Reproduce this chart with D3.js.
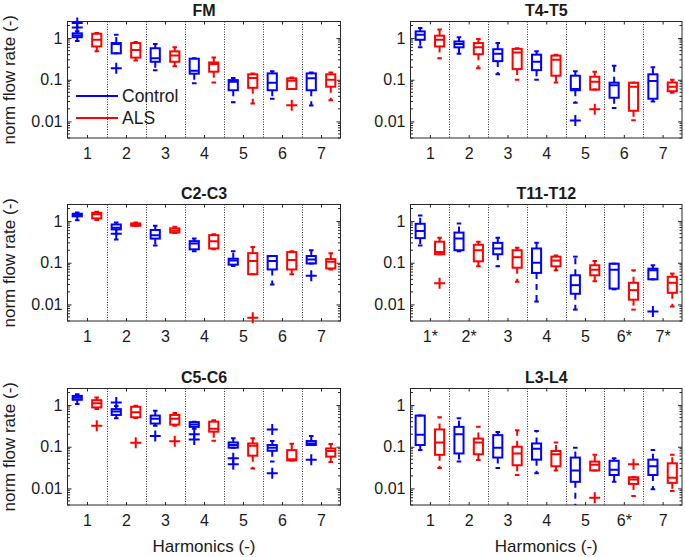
<!DOCTYPE html>
<html><head><meta charset="utf-8">
<script src="https://cdn.jsdelivr.net/npm/d3@7"></script>
<style>
body{margin:0;background:#fff}
text{font-family:"Liberation Sans",Arial,Helvetica,sans-serif;fill:#1a1a1a}
</style>
</head><body>
<svg id="c" width="685" height="557"></svg>
<script>
// ---------- data ----------
const harmonics = [1, 2, 3, 4, 5, 6, 7];
const panelTitles = ["FM", "T4-T5", "C2-C3", "T11-T12", "C5-C6", "L3-L4"];
const groupNames = ["Control", "ALS"];
const yTickValues = [0.01, 0.1, 1];
const yTickLabels = ["0.01", "0.1", "1"];
const xLabelsPlain = ["1", "2", "3", "4", "5", "6", "7"];
const xLabelsT1112 = ["1*", "2*", "3", "4", "5", "6*", "7*"];
const xLabelsL34 = ["1", "2", "3", "4", "5", "6*", "7"];
const yAxisTitle = "norm flow rate (-)";
const xAxisTitle = "Harmonics (-)";

// box stats per harmonic: [lower whisker, Q1, median, Q3, upper whisker]
const fmControl = [[0.85,1.05,1.15,1.3,1.45],[0.43,0.43,0.72,0.76,1.2],[0.17,0.27,0.33,0.57,0.72],[0.082,0.14,0.165,0.32,0.33],[0.029,0.056,0.089,0.098,0.11],[0.035,0.056,0.085,0.142,0.16],[0.024,0.056,0.108,0.142,0.15]];
const fmControlOut = [[1.8,2.3],[0.19],[],[],[],[],[]];
const fmALS = [[0.48,0.63,0.91,1.27,1.32],[0.29,0.34,0.52,0.76,0.8],[0.21,0.27,0.38,0.48,0.6],[0.086,0.156,0.24,0.26,0.34],[0.027,0.064,0.11,0.135,0.142],[0.06,0.06,0.095,0.108,0.114],[0.032,0.068,0.1,0.135,0.149]];
const fmALSOut = [[],[],[],[],[],[0.0245],[]];

const t45Control = [[0.6,0.91,1.2,1.45,1.75],[0.42,0.6,0.72,0.83,1.04],[0.135,0.28,0.42,0.54,0.76],[0.1,0.17,0.27,0.4,0.48],[0.028,0.056,0.06,0.125,0.16],[0.021,0.037,0.074,0.085,0.218],[0.03,0.035,0.093,0.135,0.2]];
const t45ControlOut = [[],[],[],[],[0.0105],[],[]];
const t45ALS = [[0.33,0.63,0.91,1.14,1.6],[0.19,0.41,0.6,0.76,0.95],[0.1,0.18,0.45,0.55,0.57],[0.086,0.125,0.3,0.38,0.4],[0.058,0.058,0.089,0.118,0.156],[0.0106,0.018,0.068,0.085,0.085],[0.049,0.053,0.068,0.086,0.1]];
const t45ALSOut = [[],[],[],[],[0.0195],[],[]];

const c23Control = [[1.05,1.3,1.4,1.5,1.6],[0.36,0.63,0.69,0.83,0.93],[0.26,0.38,0.46,0.61,0.77],[0.19,0.21,0.29,0.33,0.38],[0.083,0.09,0.114,0.125,0.19],[0.03,0.069,0.11,0.145,0.145],[0.096,0.096,0.12,0.145,0.2]];
const c23ControlOut = [[],[0.5],[],[],[],[],[0.049]];
const c23ALS = [[1.06,1.16,1.45,1.58,1.67],[0.76,0.77,0.83,0.88,0.93],[0.52,0.53,0.59,0.67,0.73],[0.21,0.22,0.33,0.46,0.48],[0.053,0.053,0.11,0.17,0.24],[0.053,0.069,0.116,0.18,0.19],[0.069,0.073,0.106,0.122,0.17]];
const c23ALSOut = [[],[],[],[],[0.0048],[],[]];

const t1112Control = [[0.26,0.39,0.58,0.86,1.36],[0.19,0.2,0.38,0.53,0.88],[0.082,0.16,0.22,0.3,0.4],[0.0117,0.057,0.1,0.22,0.3],[0.0075,0.018,0.029,0.05,0.14],[0.023,0.024,0.068,0.095,0.095],[0.04,0.04,0.066,0.072,0.087]];
const t1112ControlOut = [[],[],[],[],[],[],[0.0068]];
const t1112ALS = [[0.16,0.16,0.18,0.32,0.4],[0.082,0.108,0.2,0.27,0.32],[0.035,0.076,0.136,0.2,0.23],[0.066,0.082,0.113,0.14,0.15],[0.036,0.05,0.068,0.087,0.11],[0.0075,0.013,0.022,0.033,0.066],[0.0089,0.019,0.033,0.046,0.055]];
const t1112ALSOut = [[0.032],[],[],[],[],[],[]];

const c56Control = [[1.06,1.34,1.5,1.66,1.82],[0.48,0.58,0.7,0.8,0.95],[0.32,0.36,0.47,0.56,0.73],[0.27,0.3,0.34,0.39,0.4],[0.095,0.095,0.11,0.127,0.16],[0.044,0.08,0.095,0.11,0.137],[0.11,0.11,0.12,0.137,0.18]];
const c56ControlOut = [[],[1.15],[0.18],[0.2,0.15],[0.053,0.038],[0.26,0.023],[0.049]];
const c56ALS = [[0.8,0.88,1.1,1.31,1.52],[0.49,0.51,0.67,0.91,0.96],[0.32,0.34,0.47,0.58,0.65],[0.14,0.23,0.27,0.4,0.43],[0.03,0.061,0.106,0.12,0.16],[0.047,0.047,0.05,0.083,0.118],[0.043,0.058,0.079,0.091,0.116]];
const c56ALSOut = [[0.32],[0.124],[0.136],[],[],[],[]];

const l34Control = [[0.083,0.11,0.195,0.56,0.56],[0.044,0.069,0.2,0.3,0.48],[0.031,0.055,0.095,0.19,0.226],[0.023,0.049,0.09,0.12,0.24],[0.0035,0.0144,0.027,0.055,0.095],[0.0144,0.021,0.028,0.046,0.053],[0.0095,0.021,0.034,0.049,0.083]];
const l34ControlOut = [[],[],[],[],[],[],[]];
const l34ALS = [[0.031,0.064,0.127,0.26,0.51],[0.048,0.066,0.127,0.157,0.3],[0.021,0.036,0.069,0.1,0.25],[0.027,0.034,0.066,0.079,0.127],[0.027,0.027,0.037,0.044,0.064],[0.0066,0.0128,0.0163,0.0185,0.0185],[0.0087,0.0136,0.018,0.04,0.064]];
const l34ALSOut = [[],[],[],[],[0.006],[0.038],[]];

// ---------- layout ----------
const colors = {Control: "#0000ff", ALS: "#ff0000"};
const colX = [67.5, 410.5];
const colW = [273, 271.5];
const rowY = [21.5, 204.5, 388.5];
const PH = 116.5;
const groupOffset = 0.25, boxW = 0.235;
const axisColor = "#262626";

const panels = [
  {title: panelTitles[0], col: 0, row: 0, labels: xLabelsPlain, ctrl: fmControl, ctrlOut: fmControlOut, als: fmALS, alsOut: fmALSOut},
  {title: panelTitles[1], col: 1, row: 0, labels: xLabelsPlain, ctrl: t45Control, ctrlOut: t45ControlOut, als: t45ALS, alsOut: t45ALSOut},
  {title: panelTitles[2], col: 0, row: 1, labels: xLabelsPlain, ctrl: c23Control, ctrlOut: c23ControlOut, als: c23ALS, alsOut: c23ALSOut},
  {title: panelTitles[3], col: 1, row: 1, labels: xLabelsT1112, ctrl: t1112Control, ctrlOut: t1112ControlOut, als: t1112ALS, alsOut: t1112ALSOut},
  {title: panelTitles[4], col: 0, row: 2, labels: xLabelsPlain, ctrl: c56Control, ctrlOut: c56ControlOut, als: c56ALS, alsOut: c56ALSOut},
  {title: panelTitles[5], col: 1, row: 2, labels: xLabelsL34, ctrl: l34Control, ctrlOut: l34ControlOut, als: l34ALS, alsOut: l34ALSOut}
];

const svg = d3.select("#c");
const defs = svg.append("defs");

panels.forEach((p, i) => {
  const x0 = colX[p.col], w = colW[p.col], y0 = rowY[p.row];
  const x = d3.scaleLinear().domain([0.5, 7.5]).range([x0, x0 + w]);
  const y = d3.scaleLog().domain([0.004, 2.5]).range([y0 + PH, y0]);
  const g = svg.append("g");

  defs.append("clipPath").attr("id", "clip" + i).append("rect")
    .attr("x", x0).attr("y", y0).attr("width", w).attr("height", PH);

  // dotted separators between harmonics
  g.append("g").selectAll("line").data(harmonics.slice(0, -1).map(h => h + 0.5)).join("line")
    .attr("x1", d => Math.round(x(d)) + 0.5).attr("x2", d => Math.round(x(d)) + 0.5)
    .attr("y1", y0).attr("y2", y0 + PH)
    .attr("stroke", "#333").attr("stroke-width", 1).attr("stroke-dasharray", "1,1.5");

  // axes
  const fmtX = (d) => p.labels[d - 1];
  const axB = g.append("g").attr("transform", `translate(0,${y0 + PH})`)
    .call(d3.axisBottom(x).tickValues(harmonics).tickFormat(fmtX).tickSizeInner(-3).tickSizeOuter(0).tickPadding(10));
  const axT = g.append("g").attr("transform", `translate(0,${y0})`)
    .call(d3.axisTop(x).tickValues(harmonics).tickFormat("").tickSizeInner(-3).tickSizeOuter(0));
  const axL = g.append("g").attr("transform", `translate(${x0},0)`)
    .call(d3.axisLeft(y).tickValues(yTickValues).tickFormat((d, k) => yTickLabels[k]).tickSizeInner(-4).tickSizeOuter(0).tickPadding(5));
  const axR = g.append("g").attr("transform", `translate(${x0 + w},0)`)
    .call(d3.axisRight(y).tickValues(yTickValues).tickFormat("").tickSizeInner(-4).tickSizeOuter(0));
  [axB, axT, axL, axR].forEach(a => {
    a.select(".domain").remove();
    a.selectAll("line").attr("stroke", axisColor);
    a.selectAll("text").attr("font-size", 16).attr("fill", "#1a1a1a").attr("font-family", "Liberation Sans, Arial, sans-serif");
  });
  // minor log ticks
  const minor = y.ticks().filter(v => !yTickValues.some(t => Math.abs(t - v) / t < 1e-6));
  g.append("g").selectAll("line").data(minor).join("line")
    .attr("x1", x0).attr("x2", x0 + 2.5).attr("y1", d => y(d)).attr("y2", d => y(d))
    .attr("stroke", axisColor).attr("stroke-width", 1);
  g.append("g").selectAll("line").data(minor).join("line")
    .attr("x1", x0 + w).attr("x2", x0 + w - 2.5).attr("y1", d => y(d)).attr("y2", d => y(d))
    .attr("stroke", axisColor).attr("stroke-width", 1);

  // frame
  g.append("rect").attr("x", x0).attr("y", y0).attr("width", w).attr("height", PH)
    .attr("fill", "none").attr("stroke", axisColor).attr("stroke-width", 1);

  // boxes
  const series = [
    {name: groupNames[0], stats: p.ctrl, out: p.ctrlOut, off: -groupOffset},
    {name: groupNames[1], stats: p.als, out: p.alsOut, off: groupOffset}
  ];
  const bg = g.append("g").attr("clip-path", `url(#clip${i})`);
  series.forEach(s => {
    const c = colors[s.name];
    const halfW = (x(1 + boxW / 2) - x(1));
    s.stats.forEach((st, k) => {
      const cx = x(harmonics[k] + s.off);
      const [lo, q1, md, q3, hi] = st;
      const gg = bg.append("g").attr("stroke", c).attr("stroke-width", 2).attr("fill", "none");
      // whiskers (dashed)
      if (hi > q3) gg.append("line").attr("x1", cx).attr("x2", cx).attr("y1", y(q3)).attr("y2", y(hi)).attr("stroke-dasharray", "6,5");
      if (lo < q1) gg.append("line").attr("x1", cx).attr("x2", cx).attr("y1", y(q1)).attr("y2", y(lo)).attr("stroke-dasharray", "6,5");
      // caps
      gg.append("line").attr("x1", cx - halfW / 2).attr("x2", cx + halfW / 2).attr("y1", y(hi)).attr("y2", y(hi));
      gg.append("line").attr("x1", cx - halfW / 2).attr("x2", cx + halfW / 2).attr("y1", y(lo)).attr("y2", y(lo));
      // box
      gg.append("rect").attr("x", cx - halfW).attr("width", 2 * halfW)
        .attr("y", y(q3)).attr("height", Math.max(0.5, y(q1) - y(q3)));
      // median
      gg.append("line").attr("x1", cx - halfW).attr("x2", cx + halfW).attr("y1", y(md)).attr("y2", y(md));
    });
    // outliers (not clipped)
    s.out.forEach((arr, k) => {
      const cx = x(harmonics[k] + s.off);
      arr.forEach(v => {
        const cy = y(v);
        g.append("path").attr("d", `M${cx - 5.5},${cy}H${cx + 5.5}M${cx},${cy - 5.5}V${cy + 5.5}`)
          .attr("stroke", c).attr("stroke-width", 2).attr("fill", "none");
      });
    });
  });

  // title
  g.append("text").attr("x", x0 + w / 2).attr("y", y0 - 6).attr("text-anchor", "middle")
    .attr("font-size", 16).attr("font-weight", "bold").text(p.title);

  // y-axis title on left column
  if (p.col === 0) {
    g.append("text").attr("transform", `translate(9.5,${y0 + PH / 2}) rotate(-90)`)
      .attr("text-anchor", "middle").attr("dy", "0.35em").attr("font-size", 17).text(yAxisTitle);
  }
  // x-axis title on bottom row
  if (p.row === 2) {
    g.append("text").attr("x", x0 + w / 2).attr("y", 552).attr("text-anchor", "middle")
      .attr("font-size", 17).text(xAxisTitle);
  }
  // legend on first panel
  if (i === 0) {
    const lg = g.append("g");
    groupNames.forEach((n, k) => {
      const ly = 96 + k * 22;
      lg.append("line").attr("x1", 76).attr("x2", 118).attr("y1", ly).attr("y2", ly)
        .attr("stroke", colors[n]).attr("stroke-width", 2);
      lg.append("text").attr("x", 122).attr("y", ly).attr("dy", "0.36em").attr("font-size", 17.5).text(n);
    });
  }
});
</script>
</body></html>
